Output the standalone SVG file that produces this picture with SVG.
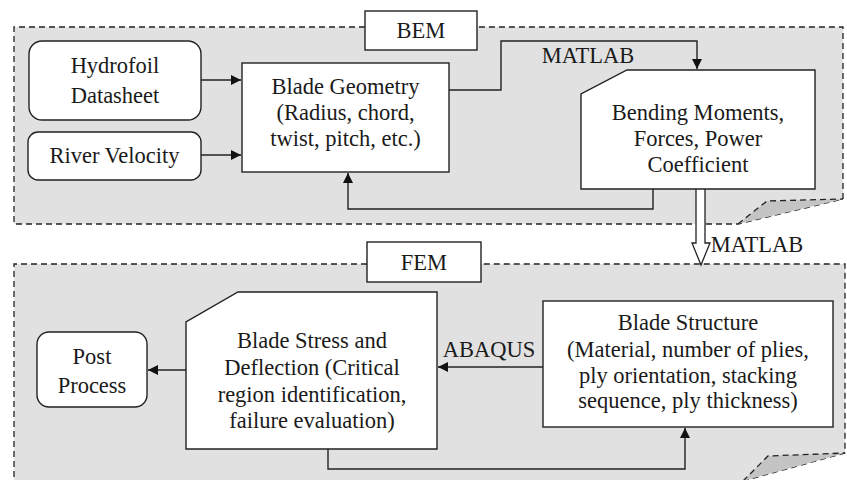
<svg xmlns="http://www.w3.org/2000/svg" width="847" height="480" viewBox="0 0 847 480">
<style>
text{font-family:"Liberation Serif","Times New Roman",serif;font-size:22.5px;fill:#1a1a1a;text-anchor:middle}
.panel{fill:#e1e1e1;stroke:none}
.dash{fill:none;stroke:#222;stroke-width:1.3;stroke-dasharray:6 4}
.fold{fill:#c4c4c4;stroke:#222;stroke-width:1.3;stroke-dasharray:6 4}
.box{fill:#fff;stroke:#222;stroke-width:1.4}
.line{fill:none;stroke:#222;stroke-width:1.4}
</style>
<defs>
<marker id="ah" viewBox="0 0 10 10" refX="10" refY="5" markerWidth="10" markerHeight="10" markerUnits="userSpaceOnUse" orient="auto">
<path d="M0,0 L10,5 L0,10 Z" fill="#111"/>
</marker>
</defs>
<rect width="847" height="480" fill="#fff"/>
<g id="bem-panel">
<path class="panel" d="M14,27 H843 V199 L738,224 H14 Z"/>
<path class="dash" d="M365,27 H14 V224 H738 L843,199 V27 H477"/>
<path class="fold" d="M738,224 L767,201 L843,199"/>
<g id="bem-label"><rect class="box" x="365" y="11" width="112" height="39"/><text x="421" y="38">BEM</text></g>
</g>
<g id="fem-panel">
<path class="panel" d="M14,264 H845 V453 L743,481 H14 Z"/>
<path class="dash" d="M367,264 H14 V482 M743,481 L845,453 V264 H481"/>
<path class="fold" d="M743,481 L768,456 L845,453"/>
<g id="fem-label"><rect class="box" x="367" y="242" width="114" height="40"/><text x="424" y="270">FEM</text></g>
</g>
<g id="connectors">
<path class="line" d="M201,80 H241" marker-end="url(#ah)"/>
<path class="line" d="M201,155 H241" marker-end="url(#ah)"/>
<path class="line" d="M449,90 H501 V41 H697 V69" marker-end="url(#ah)"/>
<path class="line" d="M653,189 V209 H348 V173" marker-end="url(#ah)"/>
<path d="M696,189 V243 H692 L701,265 L710,243 H705 V189" fill="#fff" stroke="#222" stroke-width="1.3"/>
<path class="line" d="M543,367 H438" marker-end="url(#ah)"/>
<path class="line" d="M186,370 H148" marker-end="url(#ah)"/>
<path class="line" d="M328,449 V469 H685 V428" marker-end="url(#ah)"/>
<text x="588" y="63">MATLAB</text>
<text x="757" y="252">MATLAB</text>
<text x="489" y="357">ABAQUS</text>
</g>
<g id="hydrofoil">
<rect class="box" x="29" y="41" width="172" height="79" rx="13"/>
<text x="115" y="73">Hydrofoil</text>
<text x="115" y="103">Datasheet</text>
</g>
<g id="river">
<rect class="box" x="28" y="132" width="173" height="48" rx="10"/>
<text x="114.5" y="163">River Velocity</text>
</g>
<g id="geometry">
<rect class="box" x="242" y="63" width="207" height="109"/>
<text x="345.5" y="94">Blade Geometry</text>
<text x="345.5" y="120">(Radius, chord,</text>
<text x="345.5" y="146">twist, pitch, etc.)</text>
</g>
<g id="bending">
<path class="box" d="M627,70 H815 V189 H581 V94 Z"/>
<text x="698" y="120">Bending Moments,</text>
<text x="698" y="146">Forces, Power</text>
<text x="698" y="172">Coefficient</text>
</g>
<g id="post">
<rect class="box" x="37" y="332" width="110" height="75" rx="12"/>
<text x="92" y="364">Post</text>
<text x="92" y="393">Process</text>
</g>
<g id="stress">
<path class="box" d="M238,292 H437 V449 H186 V322 Z"/>
<text x="312" y="348">Blade Stress and</text>
<text x="312" y="375">Deflection (Critical</text>
<text x="312" y="402">region identification,</text>
<text x="312" y="428">failure evaluation)</text>
</g>
<g id="structure">
<rect class="box" x="543" y="301" width="290" height="126"/>
<text x="688" y="330">Blade Structure</text>
<text x="688" y="357">(Material, number of plies,</text>
<text x="688" y="383">ply orientation, stacking</text>
<text x="688" y="408">sequence, ply thickness)</text>
</g>
</svg>
